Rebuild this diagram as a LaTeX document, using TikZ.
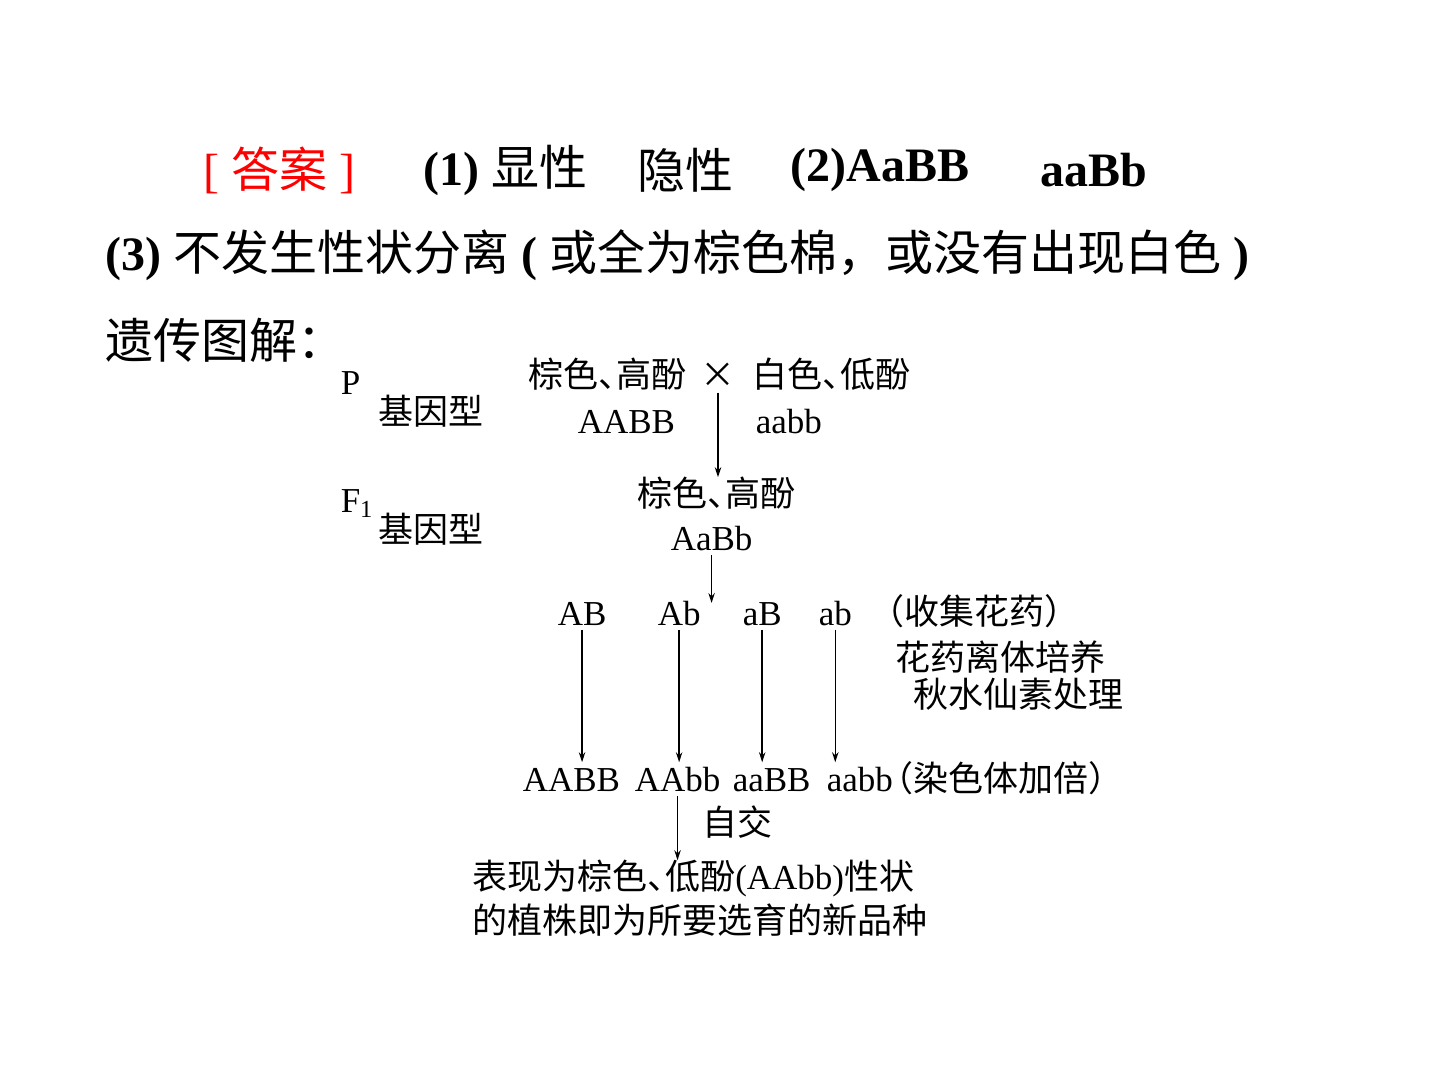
\documentclass[tikz,border=0pt]{standalone}
\usepackage{fontspec}
\setmainfont{Liberation Serif}
\newfontfamily\cjk{Noto Sans CJK SC}
\usetikzlibrary{arrows.meta}
\newcommand{\zh}[1]{{\cjk #1}}
\newcommand{\dun}{\makebox[0.5em][l]{、}}
\newcommand{\lpar}{\makebox[0.6em][r]{（}}
\newcommand{\rpar}{\makebox[0.6em][l]{）}}

\begin{document}
\begin{tikzpicture}[x=0.5pt, y=-0.5pt, ->, >={Stealth[length=5pt, width=3.2pt]}, line width=0.75pt,
  big/.style = {anchor=west, inner sep=0pt, font=\fontsize{24}{28}\selectfont},
  small/.style = {anchor=west, inner sep=0pt, text height=14pt, text depth=2pt, font=\fontsize{17.5}{21}\selectfont}]
  \useasboundingbox (0,0) rectangle (1440,1080);

  % Answer lines
  \node[big, text=red] (ans) at (203,170) {[ \zh{答案} ]};
  \node[big] (q1) at (423,170) {\textbf{(1)} \zh{显性}};
  \node[big] (q1b) at (637,170) {\zh{隐性}};
  \node[big] (q2) at (790,170) {\textbf{(2)AaBB}};
  \node[big] (q2b) at (1040,170) {\textbf{aaBb}};
  \node[big] (q3) at (105,255) {\textbf{(3)} \zh{不发生性状分离} \textbf{(} \zh{或全为棕色棉，或没有出现白色} \textbf{)}};
  \node[big] (tj) at (105,340) {\zh{遗传图解：}};

  % Nodes
  \node[small] (P) at (340,382) {P};
  \node[small] (Pg) at (378,412) {\zh{基因型}};
  \node[small] (pm) at (528,376) {\zh{棕色\dun 高酚}};
  \node[small, anchor=center] (cross) at (718,376) {\zh{×}};
  \node[small] (pf) at (752,376) {\zh{白色\dun 低酚}};
  \node[small] (pAABB) at (577,422) {AABB};
  \node[small] (paabb) at (755,422) {aabb};

  \node[small] (F) at (340,500) {F\textsubscript{1}};
  \node[small] (Fg) at (378,530) {\zh{基因型}};
  \node[small] (fphen) at (637,494) {\zh{棕色\dun 高酚}};
  \node[small] (fgeno) at (670,538) {AaBb};
  \coordinate (split) at (715,603);

  \node[small] (gAB) at (557,613) {AB};
  \node[small] (gAb) at (657,613) {Ab};
  \node[small] (gaB) at (742,613) {aB};
  \node[small] (gab) at (818,613) {ab};
  \node[small] (collect) at (883,612) {\zh{\lpar 收集花药\rpar}};
  \node[small] (cult) at (895,658) {\zh{花药离体培养}};
  \node[small] (colch) at (913,695) {\zh{秋水仙素处理}};

  \node[small] (dAABB) at (522,779) {AABB};
  \node[small] (dAAbb) at (634,779) {AAbb};
  \node[small] (daaBB) at (732,779) {aaBB};
  \node[small] (daabb) at (826,779) {aabb\zh{\lpar 染色体加倍\rpar}};
  \node[small] (self) at (702,823) {\zh{自交}};

  \node[small] (res1) at (472,877) {\zh{表现为棕色\dun 低酚}(AAbb)\zh{性状}};
  \node[small] (res2) at (472,921) {\zh{的植株即为所要选育的新品种}};

  % Paths
  \path
        (cross.south) edge (cross.south |- fphen.north)
        (fgeno.south) edge (fgeno.south |- split)
        (gAB.south) edge (gAB.south |- dAABB.north)
        (gAb.south) edge (gAb.south |- dAAbb.north)
        (gaB.south) edge (gaB.south |- daaBB.north)
        (gab.south) edge (gab.south |- daabb.north)
        (dAAbb.south) edge (dAAbb.south |- res1.north);
\end{tikzpicture}
\end{document}
